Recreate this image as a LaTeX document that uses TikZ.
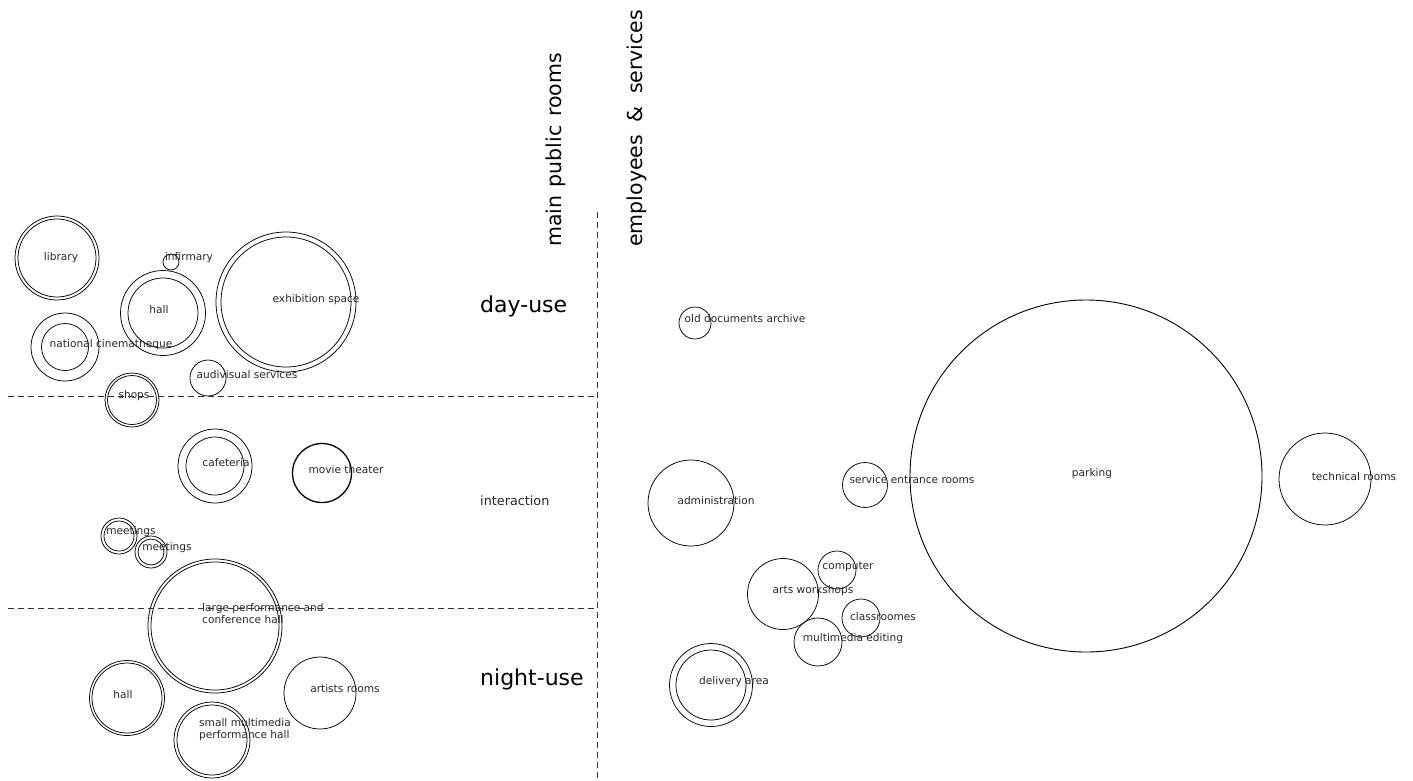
\documentclass[tikz,border=0pt]{standalone}
\usepackage{fontspec}
\setmainfont{DejaVu Sans}
\begin{document}
\begin{tikzpicture}[x=1pt,y=-1pt,
  ring/.style={circle, draw=black, line width=0.75pt, inner sep=0pt, minimum size=#1},
  lbl/.style={font=\fontsize{10.6}{12}\selectfont, text=black!85, inner sep=0pt, yshift=-1.5pt},
  lbltwo/.style={lbl, align=left, anchor=north west},
  zone/.style={font=\fontsize{22}{24}\selectfont, text=black, inner sep=0pt, anchor=west},
  zonesmall/.style={font=\fontsize{12.8}{14}\selectfont, text=black!85, inner sep=0pt, anchor=west},
  head/.style={font=\fontsize{20.5}{22}\selectfont, text=black, inner sep=0pt, anchor=west, rotate=90},
  divider/.style={draw=black!80, line width=0.8pt, dash pattern=on 6pt off 4pt}
]
\useasboundingbox (0,0) rectangle (1413,780);

% ---------- left: main public rooms ----------
\node[ring=84pt] (library) at (57,258) {};
\node[ring=78pt] at (library) {};
\node[lbl] at (61,256) {library};

\node[ring=16pt] (infirmary) at (171,262) {};
\node[lbl] at (189,256) {infirmary};

\node[ring=85pt] (hallA) at (163,313) {};
\node[ring=70pt] at (hallA) {};
\node[lbl] at (159,308) {hall};

\node[ring=140pt] (exhib) at (286,302) {};
\node[ring=130pt] at (exhib) {};
\node[lbl] at (316,298) {exhibition space};

\node[ring=68pt] (natcin) at (65,347) {};
\node[ring=47pt] at (natcin) {};
\node[lbl] at (111,343) {national cinematheque};

\node[ring=36pt] (audio) at (208,378) {};
\node[lbl] at (247,373) {audivisual services};

\node[ring=54pt] (shops) at (132,400) {};
\node[ring=49pt] at (shops) {};
\node[lbl] at (134,394) {shops};

\node[ring=74pt] (cafe) at (215,466) {};
\node[ring=58pt] at (cafe) {};
\node[lbl] at (226,461) {cafeteria};

\node[ring=59pt, line width=1.3pt] (movie) at (322,473) {};
\node[lbl] at (346,468) {movie theater};

\node[ring=36pt] (meetA) at (119,536) {};
\node[ring=30pt] at (meetA) {};
\node[lbl] at (131,530) {meetings};

\node[ring=32pt] (meetB) at (151,552) {};
\node[ring=26pt] at (meetB) {};
\node[lbl] at (167,546) {meetings};

\node[ring=134pt] (large) at (215,626) {};
\node[ring=128pt] at (large) {};
\node[lbltwo] at (202,602) {large performance and\\conference hall};

\node[ring=75pt] (hallB) at (127,698) {};
\node[ring=70pt] at (hallB) {};
\node[lbl] at (123,693) {hall};

\node[ring=76pt] (smallmm) at (212,740) {};
\node[ring=70pt] at (smallmm) {};
\node[lbltwo] at (199,717) {small multimedia\\performance hall};

\node[ring=72pt] (artists) at (320,693) {};
\node[lbl] at (345,687) {artists rooms};

% ---------- right: employees & services ----------
\node[ring=32pt] (archive) at (695,323) {};
\node[lbl] at (745,317) {old documents archive};

\node[ring=86pt] (admin) at (691,503) {};
\node[lbl] at (716,499) {administration};

\node[ring=45pt] (service) at (865,485) {};
\node[lbl] at (912,478) {service entrance rooms};

\node[ring=38pt] (computer) at (837,570) {};
\node[lbl] at (848,565) {computer};

\node[ring=71pt] (arts) at (783,594) {};
\node[lbl] at (813,589) {arts workshops};

\node[ring=38pt] (class) at (861,618) {};
\node[lbl] at (883,615) {classroomes};

\node[ring=48pt] (mmedit) at (818,642) {};
\node[lbl] at (853,637) {multimedia editing};

\node[ring=83pt] (delivery) at (711,685) {};
\node[ring=70pt] at (delivery) {};
\node[lbl] at (734,680) {delivery area};

\node[ring=352pt, line width=0.9pt] (parking) at (1086,476) {};
\node[lbl] at (1092,472) {parking};

\node[ring=92pt] (technical) at (1325,479) {};
\node[lbl] at (1354,475) {technical rooms};

% ---------- dividers ----------
\coordinate (hAl) at (8,396);
\coordinate (hAr) at (597,396);
\coordinate (hBl) at (8,608);
\coordinate (hBr) at (597,608);
\coordinate (vT) at (597,212);
\coordinate (vB) at (597,780);
\draw[divider] (hAl) -- (hAr);
\draw[divider] (hBl) -- (hBr);
\draw[divider] (vT) -- (vB);

% ---------- headings ----------
\node[head] (hpub) at (556,247) {main\hspace{2pt} public\hspace{2pt} rooms};
\node[head] (hemp) at (637,247) {employees\hspace{6pt} \&\hspace{6pt} services};
\node[zone] (zday) at (480,306) {day-use};
\node[zonesmall] (zint) at (480,501) {interaction};
\node[zone] (znight) at (480,679) {night-use};
\end{tikzpicture}
\end{document}
